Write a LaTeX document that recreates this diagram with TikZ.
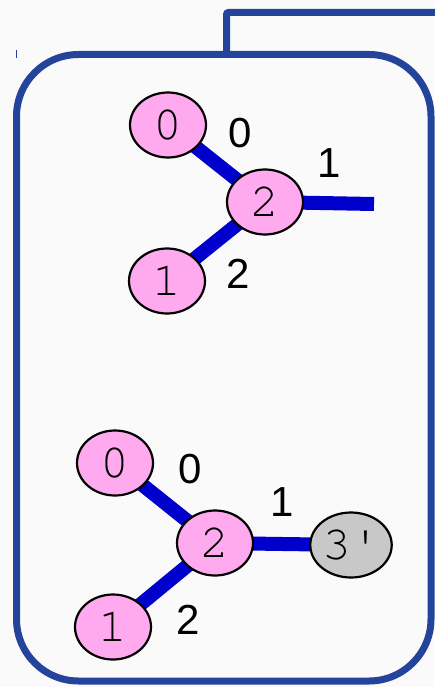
\documentclass[tikz,border=0pt]{standalone}
\usepackage{fontspec}
\setmainfont{Liberation Sans}
\newfontfamily\monof{TeX Gyre Cursor}
\usetikzlibrary{shapes.geometric,backgrounds}
\definecolor{frameblue}{RGB}{35,68,154}
\definecolor{edgeblue}{RGB}{0,0,204}
\definecolor{pinkfill}{RGB}{255,170,238}
\definecolor{greyfill}{RGB}{200,200,200}
\definecolor{bgcol}{RGB}{250,250,250}
\tikzset{
  vert/.style={ellipse, draw=black, line width=2.2pt, fill=pinkfill,
    minimum width=76pt, minimum height=65pt, inner sep=0pt,
    font=\monof\fontsize{48}{48}\selectfont, text=black},
  ghost/.style={vert, fill=greyfill},
  port/.style={font=\fontsize{42}{42}\selectfont, inner sep=0pt},
  link/.style={edgeblue, line width=14pt},
  frame/.style={frameblue, line width=7pt}
}
\begin{document}
\begin{tikzpicture}[x=1pt,y=-1pt]
\useasboundingbox (0,0) rectangle (434,687);
% top graph
\node[vert] (a0) at (168,125) {0};
\node[vert] (a2) at (265,202) {2};
\node[vert] (a1) at (167,281) {1};
\coordinate (astub) at (374,204);
\node[port] (la0) at (240,133) {0};
\node[port] (la1) at (329,163) {1};
\node[port] (la2) at (238,274) {2};
% bottom graph
\node[vert] (b0) at (115,463) {0};
\node[vert] (b2) at (215,543) {2};
\node[vert] (b1) at (113,627) {1};
\node[ghost] (b3) at (351,545) {3'};
\node[port] (lb0) at (190,469) {0};
\node[port] (lb1) at (282,502) {1};
\node[port] (lb2) at (188,620) {2};
\begin{scope}[on background layer]
  \fill[bgcol] (0,0) rectangle (434,687);
  \draw[frame, rounded corners=62pt] (16.5,54.5) rectangle (431,681);
  \draw[frame, rounded corners=2pt] (226.5,54.5) -- (226.5,12.5) -- (445,12.5);
  \draw[frameblue, line width=1pt] (16,50) -- (16,58);
  \draw[link] (a0.center) -- (a2.center);
  \draw[link] (a1.center) -- (a2.center);
  \draw[link] (a2.center) -- (astub);
  \draw[link] (b0.center) -- (b2.center);
  \draw[link] (b1.center) -- (b2.center);
  \draw[link] (b2.center) -- (b3.center);
\end{scope}
\end{tikzpicture}
\end{document}
